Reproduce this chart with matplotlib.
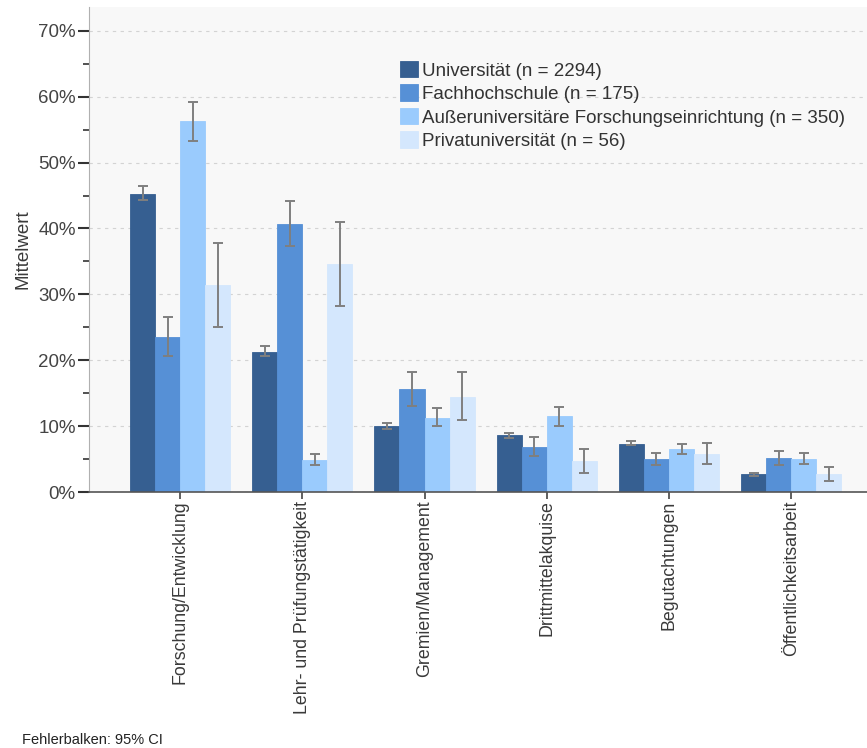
import numpy as np
import matplotlib
matplotlib.use("Agg")
import matplotlib.pyplot as plt
from matplotlib.ticker import MultipleLocator, PercentFormatter

plt.rcParams['font.family'] = ['Liberation Sans', 'DejaVu Sans']

# data (shares)
categories = ["Forschung/Entwicklung", "Lehr- und Prüfungstätigkeit", "Gremien/Management",
              "Drittmittelakquise", "Begutachtungen", "Öffentlichkeitsarbeit"]
series = ["Universität (n = 2294)", "Fachhochschule (n = 175)",
          "Außeruniversitäre Forschungseinrichtung (n = 350)", "Privatuniversität (n = 56)"]

uni_mean = [45.3, 21.3, 10.0, 8.6, 7.3, 2.7]
uni_lo   = [44.3, 20.6, 9.6, 8.2, 7.1, 2.5]
uni_hi   = [46.4, 22.1, 10.5, 9.0, 7.7, 2.9]

fh_mean = [23.6, 40.7, 15.6, 6.9, 5.0, 5.2]
fh_lo   = [20.7, 37.3, 13.1, 5.5, 4.1, 4.1]
fh_hi   = [26.5, 44.2, 18.2, 8.3, 5.9, 6.3]

auf_mean = [56.3, 4.9, 11.3, 11.5, 6.5, 5.0]
auf_lo   = [53.3, 4.1, 10.0, 10.1, 5.8, 4.2]
auf_hi   = [59.2, 5.8, 12.7, 12.9, 7.3, 5.9]

priv_mean = [31.4, 34.6, 14.5, 4.7, 5.8, 2.7]
priv_lo   = [25.1, 28.3, 11.0, 2.9, 4.3, 1.7]
priv_hi   = [37.8, 41.0, 18.2, 6.5, 7.4, 3.8]

colors = ["#365f91", "#5690d6", "#9acbfd", "#d4e7fd"]

means = [uni_mean, fh_mean, auf_mean, priv_mean]
los = [uni_lo, fh_lo, auf_lo, priv_lo]
his = [uni_hi, fh_hi, auf_hi, priv_hi]

fig = plt.figure(figsize=(8.67, 7.48), dpi=100, facecolor='w')
ax = fig.add_axes([0.1027, 0.342, 0.8973, 0.6487])
ax.set_facecolor('#f8f8f8')

x = np.arange(len(categories))
w = 0.205
for i in range(4):
    m = np.array(means[i]) / 100
    lo = np.array(los[i]) / 100
    hi = np.array(his[i]) / 100
    pos = x + (i - 1.5) * w
    ax.bar(pos, m, width=w, color=colors[i], edgecolor=colors[i], linewidth=0.6,
           label=series[i], zorder=2)
    ax.errorbar(pos, m, yerr=[m - lo, hi - m], fmt='none', ecolor='#7f7f7f',
                elinewidth=1.4, capsize=3.5, capthick=1.4, zorder=3)

ax.set_xlim(-0.745, 5.62)
ax.set_ylim(0, 0.736)
ax.yaxis.set_major_locator(MultipleLocator(0.1))
ax.yaxis.set_minor_locator(MultipleLocator(0.05))
ax.yaxis.set_major_formatter(PercentFormatter(1.0, decimals=0))
ax.grid(axis='y', which='major', linestyle=(0, (3, 4)), color='#d3d3d3', linewidth=0.8, zorder=0)
ax.set_axisbelow(True)

ax.set_xticks(x)
ax.set_xticklabels(categories, rotation=90, fontsize=12.75, color='#3a3a3a')
ax.tick_params(axis='x', length=5, width=1.2, color='#444444', pad=1)
ax.tick_params(axis='y', which='major', length=8, width=1.5, color='#333333',
               labelsize=13.5, labelcolor='#444444', pad=1.5)
ax.tick_params(axis='y', which='minor', length=4, width=1.2, color='#333333')

for s in ['top', 'right']:
    ax.spines[s].set_visible(False)
ax.spines['left'].set_color('#b0b0b0')
ax.spines['bottom'].set_color('#555555')
ax.spines['bottom'].set_linewidth(1.2)

ax.set_ylabel("Mittelwert", fontsize=13.5, color='#3a3a3a', labelpad=5)

leg = ax.legend(loc='upper left', bbox_to_anchor=(400 / 867, 1 - 61 / 748),
                bbox_transform=fig.transFigure, frameon=False, fontsize=13.5,
                handlelength=0.96, handleheight=0.96, handletextpad=0.2,
                labelspacing=0.26, borderaxespad=0, borderpad=0)
for t in leg.get_texts():
    t.set_color('#333333')

fig.text(22 / 867, 1 - 740 / 748, "Fehlerbalken: 95% CI", fontsize=10.5, color='#222222',
         va='center', ha='left')

fig.savefig("out.png", dpi=100)
